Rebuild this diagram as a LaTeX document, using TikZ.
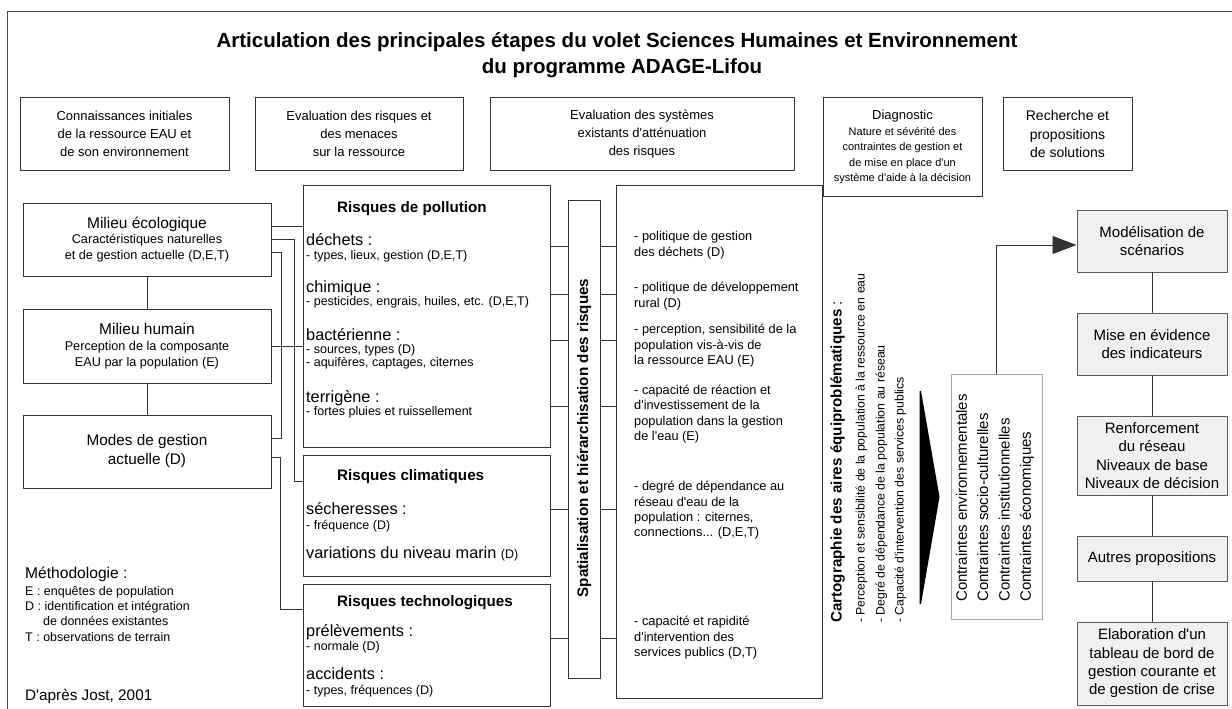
\documentclass[tikz,border=0pt]{standalone}
\usepackage{fontspec}
\setmainfont{Liberation Sans}[Ligatures=TeXOff]
\usepackage{tikz}
\usetikzlibrary{arrows.meta}
\newcommand{\setfs}[2]{\fontsize{#1}{#2}\selectfont}

\begin{document}
\begin{tikzpicture}[line cap=round,line join=round,x=1pt,y=-1pt,
        wbox/.style={draw=black!80,line width=1pt,fill=white,inner sep=0pt,align=center,font=\setfs{13}{18}},
        sbox/.style={wbox,draw=black!65,fill=black!6,font=\setfs{15}{18.4}},
        conn/.style={draw=black!80,line width=0.9pt},
        lbl/.style={inner sep=0pt,anchor=mid west,font=\setfs{16.3}{18}},
        subtxt/.style={lbl,font=\setfs{12.5}{15}},
        hdr/.style={lbl,font=\bfseries\setfs{15.2}{18}},
        para/.style={inner sep=0pt,anchor=west,align=left,font=\setfs{12.8}{15.4}}]
                \useasboundingbox (0,0) rectangle (1232,709);
                \fill [white] (0,0) rectangle (1232,709);
                \clip (0,0) rectangle (1232,709);
                \draw [line width=1pt,black!70] (7,12) rectangle (1240,730);
                \node [font=\bfseries\setfs{20.5}{22}] (title1) at (617,42) {Articulation des principales étapes du volet Sciences Humaines et Environnement};
                \node [font=\bfseries\setfs{20.5}{22}] (title2) at (622,68) {du programme ADAGE-Lifou};
                \node [wbox,minimum width=209pt,minimum height=73pt] (hConn) at (124.5,134) {Connaissances initiales\\de la ressource EAU et\\de son environnement};
                \node [wbox,minimum width=208pt,minimum height=73pt] (hRisq) at (359,134) {Evaluation des risques et\\des menaces\\sur la ressource};
                \node [wbox,minimum width=304pt,minimum height=73pt] (hSyst) at (642,134) {Evaluation des systèmes\\existants d'atténuation\\des risques};
                \node [wbox,minimum width=159pt,minimum height=99pt,font=\setfs{11}{15.5}] (hDiag) at (902.5,147) {{\setfs{13}{15.5}Diagnostic}\\Nature et sévérité des\\contraintes de gestion et\\de mise en place d'un\\système d'aide à la décision};
                \node [wbox,minimum width=129pt,minimum height=73pt,font=\setfs{14}{18.5}] (hSol) at (1067.5,134) {Recherche et\\propositions\\de solutions};
                \node [wbox,minimum width=248pt,minimum height=73pt,font=\setfs{12.7}{15.3}] (ecol) at (147,239.5) {{\setfs{15.5}{16}Milieu écologique}\\Caractéristiques naturelles\\et de gestion actuelle (D,E,T)};
                \node [wbox,minimum width=248pt,minimum height=74pt,font=\setfs{12.7}{15.8}] (humain) at (147,346) {{\setfs{15.5}{16}Milieu humain}\\Perception de la composante\\EAU par la population (E)};
                \node [wbox,minimum width=248pt,minimum height=73pt,font=\setfs{15.3}{19}] (modes) at (147,451.5) {Modes de gestion\\actuelle (D)};
                \draw [conn] (ecol) -- (humain);
                \draw [conn] (humain) -- (modes);
                \node [wbox,minimum width=247pt,minimum height=262pt] (poll) at (426.5,316) {};
                \node [wbox,minimum width=247pt,minimum height=121pt] (clim) at (426.5,515.5) {};
                \node [wbox,minimum width=247pt,minimum height=122pt] (techno) at (426.5,645) {};
                \node [wbox,minimum width=32pt,minimum height=478pt] (spatial) at (584,439) {};
                \node [wbox,minimum width=206pt,minimum height=513pt] (evalsys) at (719,441.5) {};
                \node [wbox,draw=black!35,minimum width=91pt,minimum height=245pt] (contr) at (996.5,496.5) {};
                \draw [conn] (ecol.east |- 0,226) -- (poll.west |- 0,226);
                \draw [conn] (ecol.east |- 0,239) -- (294,239) |- (clim.west |- 0,481);
                \draw [conn] (ecol.east |- 0,252) -- (281,252) |- (modes.east |- 0,438);
                \draw [conn] (humain.east |- 0,346) -- (poll.west |- 0,346);
                \draw [conn] (modes.east |- 0,457) -- (280,457) |- (techno.west |- 0,609);
                \draw [conn] (poll.east |- 0,246) -- (spatial.west |- 0,246) (spatial.east |- 0,246) -- (evalsys.west |- 0,246);
                \draw [conn] (poll.east |- 0,294) -- (spatial.west |- 0,294) (spatial.east |- 0,294) -- (evalsys.west |- 0,294);
                \draw [conn] (poll.east |- 0,340) -- (spatial.west |- 0,340) (spatial.east |- 0,340) -- (evalsys.west |- 0,340);
                \draw [conn] (poll.east |- 0,406) -- (spatial.west |- 0,406) (spatial.east |- 0,406) -- (evalsys.west |- 0,406);
                \draw [conn] (clim.east |- 0,509) -- (spatial.west |- 0,509) (spatial.east |- 0,509) -- (evalsys.west |- 0,509);
                \draw [conn] (techno.east |- 0,638) -- (spatial.west |- 0,638) (spatial.east |- 0,638) -- (evalsys.west |- 0,638);
                \node [hdr] (tPoll) at (337,210) {Risques de pollution};
                \node [lbl] (tDech) at (306,243) {déchets :};
                \node [subtxt] (tDechS) at (306,257) {- types, lieux, gestion (D,E,T)};
                \node [lbl] (tChim) at (306,290) {chimique :};
                \node [subtxt] (tChimS) at (306,303) {- pesticides, engrais, huiles, etc. (D,E,T)};
                \node [lbl] (tBact) at (306,338) {bactérienne :};
                \node [subtxt] (tBactS) at (306,351) {- sources, types (D)};
                \node [subtxt] (tBactT) at (306,364) {- aquifères, captages, citernes};
                \node [lbl] (tTerr) at (306,400) {terrigène :};
                \node [subtxt] (tTerrS) at (306,413) {- fortes pluies et ruissellement};
                \node [hdr] (tClim) at (337,478) {Risques climatiques};
                \node [lbl] (tSech) at (306,512) {sécheresses :};
                \node [subtxt] (tSechS) at (306,527) {- fréquence (D)};
                \node [lbl] (tVari) at (306,556) {variations du niveau marin {\setfs{12.5}{15}(D)}};
                \node [hdr] (tTech) at (337,604) {Risques technologiques};
                \node [lbl] (tPrel) at (306,634) {prélèvements :};
                \node [subtxt] (tPrelS) at (306,648) {- normale (D)};
                \node [lbl] (tAcci) at (306,677) {accidents :};
                \node [subtxt] (tAcciS) at (306,692) {- types, fréquences (D)};
                \node [inner sep=0pt,rotate=90,font=\bfseries\setfs{15.2}{18}] (tSpat) at (584,438) {Spatialisation et hiérarchisation des risques};
                \node [para] (pDech) at (634,245) {- politique de gestion\\des déchets (D)};
                \node [para] (pRural) at (634,296) {- politique de développement\\rural (D)};
                \node [para] (pPerc) at (634,346) {- perception, sensibilité de la\\population vis-à-vis de\\la ressource EAU (E)};
                \node [para] (pReac) at (634,414) {- capacité de réaction et\\d'investissement de la\\population dans la gestion\\de l'eau (E)};
                \node [para] (pDep) at (634,510.5) {- degré de dépendance au\\réseau d'eau de la\\population : citernes,\\connections... (D,E,T)};
                \node [para] (pServ) at (634,638) {- capacité et rapidité\\d'intervention des\\services publics (D,T)};
                \node [lbl,font=\setfs{15.6}{18}] (tMeth) at (25,576) {Méthodologie :};
                \node [subtxt] (tMethE) at (25,593) {E : enquêtes de population};
                \node [subtxt] (tMethD) at (25,608) {D : identification et intégration};
                \node [subtxt] (tMethDb) at (43,623) {de données existantes};
                \node [subtxt] (tMethT) at (25,639) {T : observations de terrain};
                \node [lbl,font=\setfs{15.3}{18}] (tJost) at (25,698) {D'après Jost, 2001};
                \node [hdr,rotate=90] (tCart) at (839,623) {Cartographie des aires équiproblématiques {\mdseries :}};
                \node [subtxt,rotate=90,font=\setfs{12.3}{15}] (tCartA) at (862,623) {- Perception et sensibilité de la population à la ressource en eau};
                \node [subtxt,rotate=90,font=\setfs{12.3}{15}] (tCartB) at (882,623) {- Degré de dépendance de la population au réseau};
                \node [subtxt,rotate=90,font=\setfs{12.3}{15}] (tCartC) at (901,623) {- Capacité d'intervention des services publics};
                \fill [black] (919.5,391) -- (921,391) -- (939.5,497) -- (921,604) -- (919.5,604) -- cycle;
                \node [inner sep=0pt,anchor=west,rotate=90,align=left,font=\setfs{15}{21.3}] (tContr) at (995,602) {Contraintes environnementales\\Contraintes socio-culturelles\\Contraintes institutionnelles\\Contraintes économiques};
                \node [sbox,minimum width=150pt,minimum height=62pt] (model) at (1152,241) {Modélisation de\\scénarios};
                \node [sbox,minimum width=150pt,minimum height=62pt] (mise) at (1152,344) {Mise en évidence\\des indicateurs};
                \node [sbox,minimum width=150pt,minimum height=79pt] (renf) at (1152,455.5) {Renforcement\\du réseau\\Niveaux de base\\Niveaux de décision};
                \node [sbox,minimum width=150pt,minimum height=45pt] (autres) at (1152,558.5) {Autres propositions};
                \node [sbox,minimum width=150pt,minimum height=83pt] (elab) at (1152,663.5) {Elaboration d'un\\tableau de bord de\\gestion courante et\\de gestion de crise};
                \draw [conn] (model) -- (mise);
                \draw [conn] (mise) -- (renf);
                \draw [conn] (renf) -- (autres);
                \draw [conn] (autres) -- (elab);
                \draw [conn,-{Triangle[length=24pt,width=18pt]}] (contr.north) |- ([yshift=-4pt]model.west);
\end{tikzpicture}
\end{document}
